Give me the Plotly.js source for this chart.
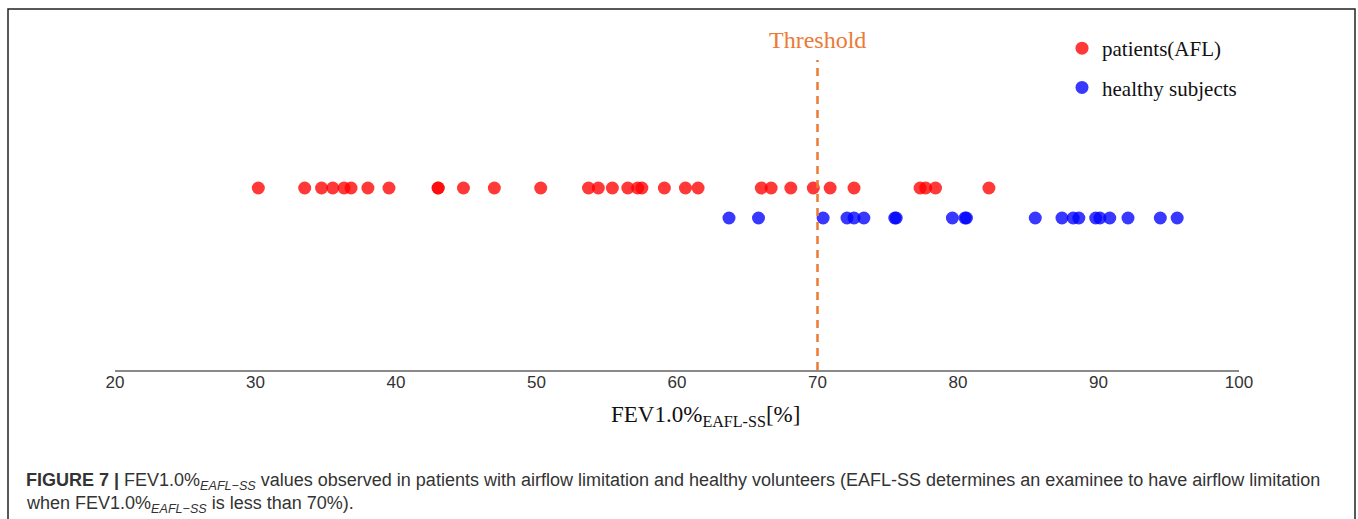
<!DOCTYPE html>
<html>
<head>
<meta charset="utf-8">
<script src="https://cdn.plot.ly/plotly-3.0.1.min.js"></script>
<style>html,body{margin:0;padding:0;background:#fff;}#chart{width:1358px;height:519px;}</style>
</head>
<body>
<div id="chart"></div>
<script>
// Data (FEV1.0%_EAFL-SS values)
const patientsAFL = [30.2, 33.5, 34.7, 35.5, 36.3, 36.8, 38.0, 39.5, 43.0, 43.0, 44.8, 47.0, 50.3, 53.7, 54.4, 55.4, 56.5, 57.2, 57.5, 59.1, 60.6, 61.5, 66.0, 66.7, 68.1, 69.7, 70.9, 72.6, 77.3, 77.7, 78.4, 82.2];
const healthySubjects = [63.7, 65.8, 70.4, 72.1, 72.6, 73.3, 75.5, 75.6, 79.6, 80.5, 80.6, 85.5, 87.4, 88.2, 88.6, 89.8, 90.1, 90.8, 92.1, 94.4, 95.6];
const seriesNames = ["patients(AFL)", "healthy subjects"];
const rowLevels = [1, 0];
const thresholdValue = 70;
const tickValues = [20, 30, 40, 50, 60, 70, 80, 90, 100];
const xRange = [20, 100];

const W = 1358, H = 519;
const L = 115, R = 1239, T = 30, B = 370;
const px = x => (x - L) / (R - L);
const py = y => (B - y) / (B - T);

const traces = [
  {
    x: patientsAFL, y: patientsAFL.map(() => rowLevels[0]),
    type: 'scatter', mode: 'markers', name: seriesNames[0],
    marker: {color: 'rgb(255,0,0)', opacity: 0.78, size: 13},
    legendgroup: 'a', hoverinfo: 'x'
  },
  {
    x: healthySubjects, y: healthySubjects.map(() => rowLevels[1]),
    type: 'scatter', mode: 'markers', name: seriesNames[1],
    marker: {color: 'rgb(0,0,255)', opacity: 0.78, size: 13},
    legendgroup: 'b', hoverinfo: 'x'
  }
];

const layout = {
  width: W, height: H,
  margin: {l: L, r: W - R, t: T, b: H - B},
  paper_bgcolor: '#fff', plot_bgcolor: '#fff',
  showlegend: true,
  legend: {
    x: px(1062), y: py(28), xanchor: 'left', yanchor: 'top',
    font: {family: 'Liberation Serif', size: 21, color: '#111'},
    traceorder: 'grouped', tracegroupgap: 9, bgcolor: 'rgba(0,0,0,0)'
  },
  xaxis: {
    range: xRange, tickvals: tickValues, ticktext: tickValues.map(String),
    showgrid: false, zeroline: false, showline: true,
    linecolor: '#8a8a8a', linewidth: 1.5,
    ticks: '', ticklabelstandoff: -4,
    tickfont: {family: 'Liberation Sans', size: 17, color: '#333'}
  },
  yaxis: {
    range: [-5.067, 6.267], visible: false, showgrid: false, zeroline: false
  },
  shapes: [
    {type: 'line', xref: 'x', yref: 'paper', x0: thresholdValue, x1: thresholdValue,
     y0: 0, y1: py(60), line: {color: '#EB7A35', width: 2.5, dash: '8px,6px'}},
    {type: 'path', xref: 'paper', yref: 'paper',
     path: `M ${px(8)} ${py(540)} L ${px(8)} ${py(9)} L ${px(1355)} ${py(9)} L ${px(1355)} ${py(540)}`,
     line: {color: '#222', width: 1.5}}
  ],
  annotations: [
    {text: 'Threshold', xref: 'x', yref: 'paper', x: thresholdValue, y: py(40),
     xanchor: 'center', yanchor: 'middle', showarrow: false,
     font: {family: 'Liberation Serif', size: 24, color: '#EB7A35'}},
    {text: 'FEV1.0%<sub>EAFL-SS</sub>[%]', xref: 'paper', yref: 'paper', x: px(705), y: py(416),
     xanchor: 'center', yanchor: 'middle', showarrow: false,
     font: {family: 'Liberation Serif', size: 23, color: '#111'}},
    {text: '<b>FIGURE 7 |</b> FEV1.0%<sub><i>EAFL\u2212SS</i></sub> values observed in patients with airflow limitation and healthy volunteers (EAFL-SS determines an examinee to have airflow limitation',
     xref: 'paper', yref: 'paper', x: px(24), y: py(481), xanchor: 'left', yanchor: 'middle',
     showarrow: false, align: 'left', font: {family: 'Liberation Sans', size: 18, color: '#333'}},
    {text: 'when FEV1.0%<sub><i>EAFL\u2212SS</i></sub> is less than 70%).',
     xref: 'paper', yref: 'paper', x: px(24), y: py(504), xanchor: 'left', yanchor: 'middle',
     showarrow: false, align: 'left', font: {family: 'Liberation Sans', size: 18, color: '#333'}}
  ]
};

Plotly.newPlot('chart', traces, layout, {displayModeBar: false, staticPlot: true});
</script>
</body>
</html>
